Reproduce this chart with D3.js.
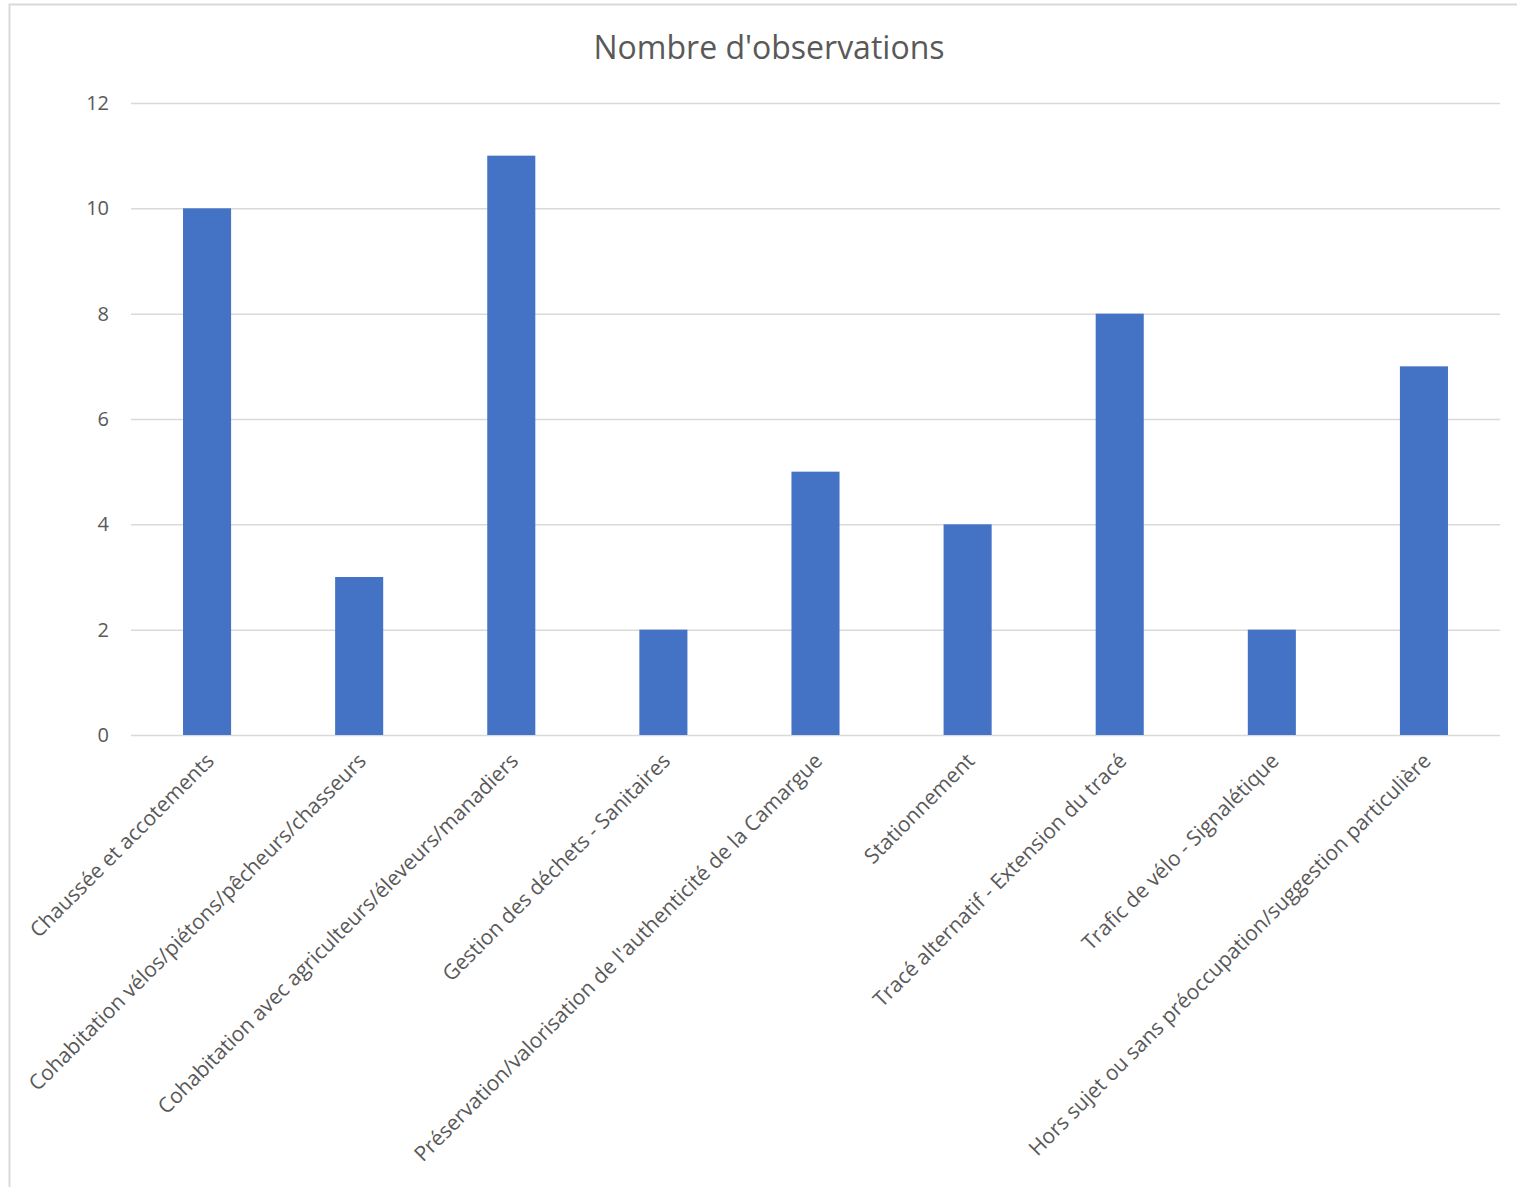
<!DOCTYPE html>
<html>
<head>
<meta charset="utf-8">
<script src="https://cdn.jsdelivr.net/npm/d3@7"></script>
<style>
  body { margin: 0; background: #fff; }
  svg { display: block; font-family: 'Open Sans', sans-serif; }
</style>
</head>
<body>
<svg id="viz" width="1517" height="1187"></svg>
<script>
// chart data
var categories = [
  'Chaussée et accotements',
  'Cohabitation vélos/piétons/pêcheurs/chasseurs',
  'Cohabitation avec agriculteurs/éleveurs/manadiers',
  'Gestion des déchets - Sanitaires',
  "Préservation/valorisation de l'authenticité de la Camargue",
  'Stationnement',
  'Tracé alternatif - Extension du tracé',
  'Trafic de vélo - Signalétique',
  'Hors sujet ou sans préoccupation/suggestion particulière'
];
var counts = [10, 3, 11, 2, 5, 4, 8, 2, 7];
var yTicks = [0, 2, 4, 6, 8, 10, 12];

var margin = { top: 103, left: 131, right: 17, bottom: 452 };
var width = 1517 - margin.left - margin.right;
var height = 1187 - margin.top - margin.bottom;

var svg = d3.select('#viz');

// chart frame
svg.append('rect')
  .attr('x', 9.5).attr('y', 4.5)
  .attr('width', 1530).attr('height', 1200)
  .attr('fill', 'none')
  .attr('stroke', '#d9d9d9')
  .attr('stroke-width', 2);

svg.append('text')
  .attr('x', 769)
  .attr('y', 59)
  .attr('text-anchor', 'middle')
  .style('font-size', '32px')
  .style('fill', '#595959')
  .text("Nombre d'observations");

var g = svg.append('g')
  .attr('transform', 'translate(' + margin.left + ',' + margin.top + ')');

var x = d3.scaleBand().domain(categories).range([0, width]).paddingInner(0.684).paddingOuter(0.342);
var y = d3.scaleLinear().domain([0, 12]).range([height, 0]);

// gridlines
g.append('g')
  .call(d3.axisLeft(y).tickValues(yTicks).tickSize(-width).tickPadding(22))
  .call(function (a) { a.select('.domain').remove(); })
  .call(function (a) {
    a.selectAll('line').attr('stroke', '#d9d9d9').attr('stroke-width', 1.5);
    a.selectAll('text')
      .attr('fill', '#595959')
      .style('font-size', '20px')
      .style('font-family', "'Open Sans', sans-serif");
  });

g.selectAll('rect.bar')
  .data(counts)
  .enter()
  .append('rect')
  .attr('class', 'bar')
  .attr('x', function (d, i) { return x(categories[i]); })
  .attr('y', function (d) { return y(d); })
  .attr('width', x.bandwidth())
  .attr('height', function (d) { return height - y(d); })
  .attr('fill', '#4472c4');

// category labels, rotated
g.selectAll('text.cat')
  .data(categories)
  .enter()
  .append('text')
  .attr('class', 'cat')
  .attr('transform', function (d) {
    var cx = x(d) + x.bandwidth() / 2;
    return 'translate(' + (cx + 3) + ',' + (height + 22) + ') rotate(-45)';
  })
  .attr('text-anchor', 'end')
  .attr('dy', '0.35em')
  .style('font-size', '21px')
  .style('fill', '#595959')
  .text(function (d) { return d; });
</script>
</body>
</html>
